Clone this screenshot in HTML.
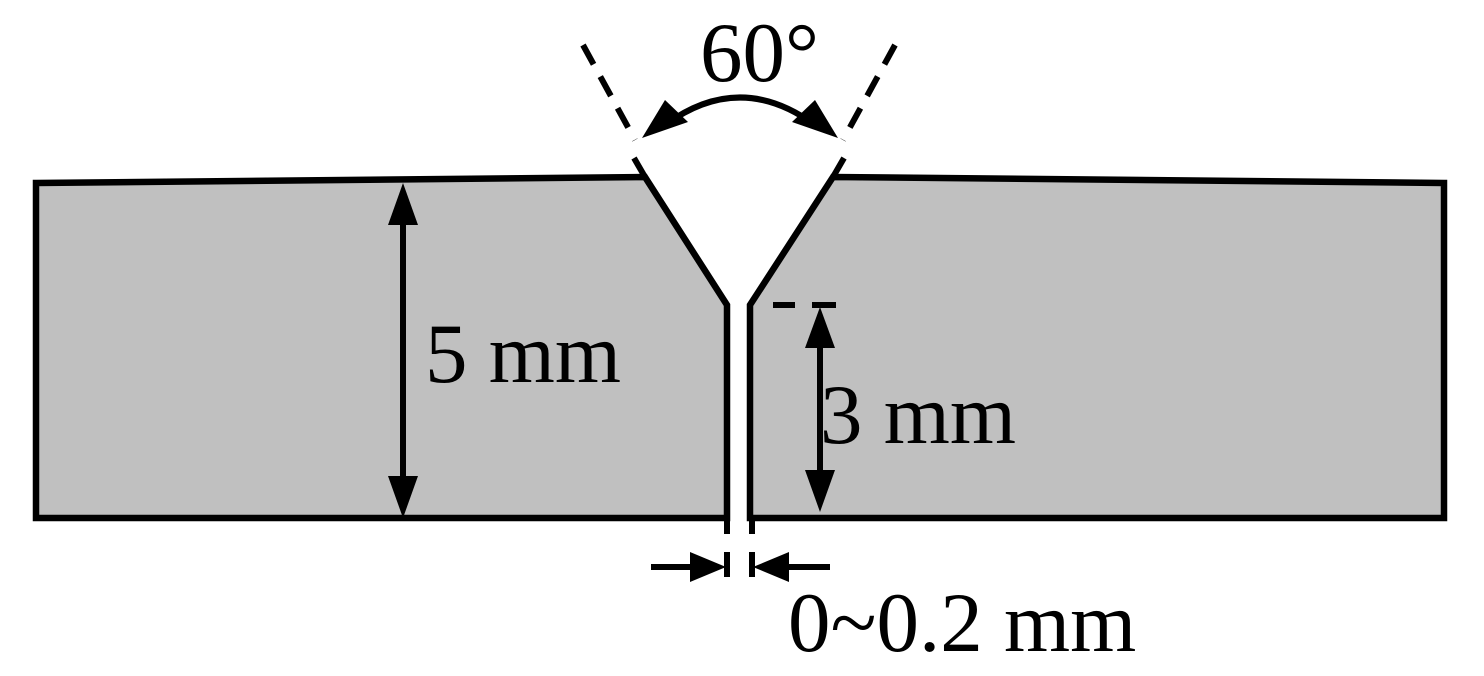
<!DOCTYPE html>
<html><head><style>body{margin:0;background:#fff}svg{display:block}</style></head><body>
<svg width="1484" height="676" viewBox="0 0 1484 676" xmlns="http://www.w3.org/2000/svg">
<g stroke="#000" stroke-width="6.5" fill="#c0c0c0" stroke-linejoin="miter">
<path d="M36,183 L645,177 L727,305 L727,518 L36,518 Z"/>
<path d="M1444,183 L833,177 L750,305 L750,518 L1444,518 Z"/>
</g>
<g stroke="#000" stroke-width="6">
<line x1="645" y1="177" x2="634" y2="158"/>
<line x1="833" y1="177" x2="844" y2="158"/>
<line x1="727" y1="518" x2="727" y2="534"/>
<line x1="752" y1="518" x2="752" y2="534"/>
<line x1="727" y1="552" x2="727" y2="577"/>
<line x1="752" y1="552" x2="752" y2="577"/>
<line x1="651" y1="567" x2="700" y2="567"/>
<line x1="780" y1="567" x2="830" y2="567"/>
<line x1="403" y1="215" x2="403" y2="485"/>
<line x1="820" y1="335" x2="820" y2="480"/>
<line x1="773" y1="305" x2="795" y2="305"/>
<line x1="812" y1="305" x2="836" y2="305"/>
<line x1="583" y1="45" x2="635" y2="140" stroke-dasharray="22,14"/>
<line x1="895" y1="45" x2="843" y2="140" stroke-dasharray="22,14"/>
<path d="M665,125 Q740,70 815,125" fill="none"/>
</g>
<g fill="#000">
<polygon points="726,567 690,552 690,582"/>
<polygon points="753,567 789,552 789,582"/>
<polygon points="403,183 388,225 418,225"/>
<polygon points="403,518 388,476 418,476"/>
<polygon points="820,307 805,348 835,348"/>
<polygon points="820,512 805,470 835,470"/>
<polygon points="642,138 665,100 688,122"/>
<polygon points="838,138 815,100 792,122"/>
</g>
<g font-family="Liberation Serif, serif" font-size="85" fill="#000">
<text x="700" y="81">60°</text>
<text x="425" y="382">5 mm</text>
<text x="820" y="443">3 mm</text>
<text x="788" y="651">0~0.2 mm</text>
</g>
</svg>
</body></html>
